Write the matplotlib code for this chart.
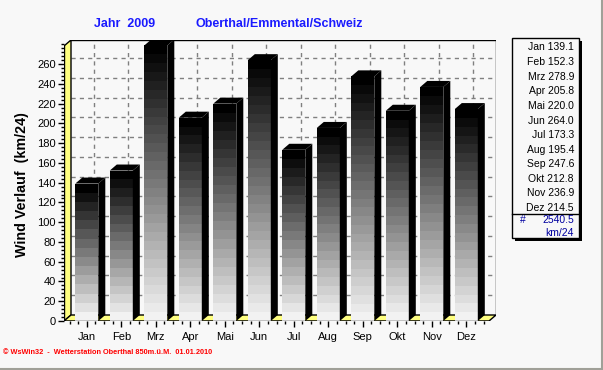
import matplotlib
matplotlib.use("Agg")
import matplotlib.pyplot as plt
from matplotlib.patches import Polygon, Rectangle
import numpy as np

# data
months = ["Jan", "Feb", "Mrz", "Apr", "Mai", "Jun", "Jul", "Aug", "Sep", "Okt", "Nov", "Dez"]
wind = [139.1, 152.3, 278.9, 205.8, 220.0, 264.0, 173.3, 195.4, 247.6, 212.8, 236.9, 214.5]
total = 2540.5
title_year = "Jahr  2009"
title_place = "Oberthal/Emmental/Schweiz"
ylabel = "Wind Verlauf  (km/24)"
footer = "\u00a9 WsWin32  -  Wetterstation Oberthal 850m.\u00fc.M.  01.01.2010"

W, H = 603, 370
BG = "#f8f8f8"
YEL = "#ffff80"
BLUE = "#1a1aff"

# pixel layout of the 3d box
x0_px, spacing_px = 86.8, 34.5
left_px, right_px = 64, 496
bottom_px, top_px = 321, 40
ppu = 0.988  # px per km/24
dx_px, dy_px = 7, 6

dx = dx_px / spacing_px
dy = dy_px / ppu
xmin = (left_px - x0_px) / spacing_px
xmax = (right_px - x0_px) / spacing_px
ymax = (bottom_px - top_px) / ppu
bw = 23 / spacing_px

plt.rcParams['font.family'] = ['Liberation Sans', 'DejaVu Sans']

fig = plt.figure(figsize=(W / 100, H / 100), dpi=100, facecolor=BG)
ax = fig.add_axes([left_px / W, (H - bottom_px) / H, (right_px - left_px) / W, (bottom_px - top_px) / H])
ax.set_xlim(xmin, xmax)
ax.set_ylim(0, ymax)
ax.patch.set_visible(False)
for s in ax.spines.values():
    s.set_visible(False)

xf_end = xmax - dx  # front right end

# grid on back wall
for v in range(20, 280, 20):
    ax.plot([xmin + dx, xmax], [v + dy, v + dy], color="#808080", lw=1, ls=(0, (3, 3)), zorder=1)
for i in range(len(months)):
    ax.plot([i + dx, i + dx], [dy, ymax], color="#808080", lw=1, ls=(0, (3, 3)), zorder=1)

# back frame
ax.plot([xmin + dx, xmax, xmax], [ymax, ymax, dy], color="black", lw=1, zorder=2)

# left wall
ax.add_patch(Polygon([[xmin, 0], [xmin + dx, dy], [xmin + dx, ymax], [xmin, ymax - dy]],
                     closed=True, fc=YEL, ec="black", lw=1, zorder=2))
# floor
ax.add_patch(Polygon([[xmin, 0], [xf_end, 0], [xmax, dy], [xmin + dx, dy]],
                     closed=True, fc=YEL, ec="black", lw=1, zorder=2))

# bars: banded grey front, black side and top
for i, v in enumerate(wind):
    n = max(2, int(round(v / 9.0)))
    h = v / n
    for k in range(n):
        g = 0.95 * (n - 1 - k) / (n - 1)
        ax.bar(i, h, bottom=k * h, width=bw, color=(g, g, g), lw=0, zorder=3)
    xr = i + bw / 2
    xl = i - bw / 2
    ax.add_patch(Polygon([[xr, 0], [xr + dx, dy], [xr + dx, v + dy], [xr, v]],
                         closed=True, fc="black", ec="none", zorder=4))
    ax.add_patch(Polygon([[xl, v], [xr, v], [xr + dx, v + dy], [xl + dx, v + dy]],
                         closed=True, fc="black", ec="none", zorder=4))

# front axis lines
ax.plot([xmin, xf_end], [0, 0], color="black", lw=1, zorder=5)
ax.plot([xmin, xmin], [0, ymax - dy], color="black", lw=1, zorder=5)

ax.set_yticks(range(0, 261, 20))
ax.set_yticks(np.arange(0, 281, 4), minor=True)
ax.set_xticks(range(len(months)))
ax.set_xticklabels(months)
ax.set_xticks([m for m in np.arange(-0.5, 11.6, 0.25) if m % 1 != 0], minor=True)
ax.tick_params(axis="both", which="major", direction="out", length=4, width=1, labelsize=8, pad=2)
ax.tick_params(axis="both", which="minor", direction="out", length=2, width=1)
ax.tick_params(axis="x", which="major", pad=4)
ax.set_ylabel(ylabel, fontsize=10.3, fontweight="bold")
ax.yaxis.set_label_coords((29 - left_px) / (right_px - left_px), (bottom_px - 184.5) / (bottom_px - top_px))

# overlay in pixel coordinates
ov = fig.add_axes([0, 0, 1, 1])
ov.set_xlim(0, W)
ov.set_ylim(H, 0)
ov.axis("off")
ov.patch.set_visible(False)

ov.text(94, 24, title_year, color=BLUE, fontsize=9, fontweight="bold", va="center", ha="left")
ov.text(196, 24, title_place, color=BLUE, fontsize=9, fontweight="bold", va="center", ha="left")

# legend box
ov.add_patch(Rectangle((515, 41), 67, 200, fc="black", ec="none"))
ov.add_patch(Rectangle((512, 38), 67, 200, fc=BG, ec="black", lw=1))
ov.plot([512, 579], [214, 214], color="black", lw=1)
for k, (m, v) in enumerate(zip(months, wind)):
    ov.text(574, 47.5 + k * 14.6, f"{m} {v:.1f}", fontsize=7.5, ha="right", va="center")
ov.text(520, 220, "#", fontsize=7.5, ha="left", va="center", color="#0000a0")
ov.text(574, 220, f"{total:.1f}", fontsize=7.5, ha="right", va="center", color="#0000a0")
ov.text(574, 233, "km/24", fontsize=7.5, ha="right", va="center", color="#0000a0")

ov.text(3, 352, footer, fontsize=5.3, fontweight="bold", color="red", ha="left", va="center")

# window border
ov.plot([601.5, 601.5], [0, H], color="#a0a098", lw=1.5)
ov.plot([0, W], [368.5, 368.5], color="#a0a098", lw=1.5)

fig.savefig("out.png", dpi=100, facecolor=BG)
